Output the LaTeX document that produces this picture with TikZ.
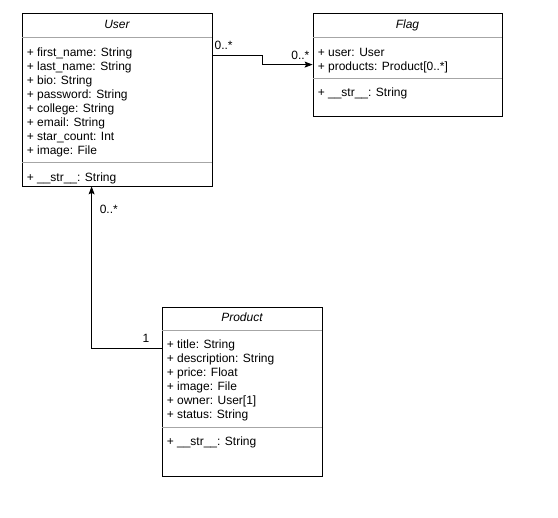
\documentclass[tikz,border=0pt]{standalone}
\usepackage{fontspec}
\setmainfont{Liberation Sans}
\usetikzlibrary{arrows.meta}

\begin{document}
\begin{tikzpicture}[x=1pt, y=-1pt,
		classbox/.style={draw, line width=0.8pt, inner sep=0pt},
		classname/.style={anchor=base, inner sep=0pt, font=\fontsize{12}{14}\selectfont\itshape},
		members/.style={anchor=north west, inner sep=0pt, align=left, font=\fontsize{12}{14}\selectfont},
		sepline/.style={draw=gray!70, line width=0.8pt},
		assoc/.style={line width=0.8pt, -{Stealth[length=8pt, width=6pt, inset=1.5pt]}},
		mult/.style={inner sep=0pt, font=\fontsize{12}{14}\selectfont}]
			\useasboundingbox (0,0) rectangle (558,518);
			\node[classbox, minimum width=190pt, minimum height=173pt] (user) at (117,99.5) {};
			\node[classname] (usertitle) at ([yshift=-16pt]user.north) {User};
			\draw[sepline] ([yshift=-25pt]user.north west) -- ([yshift=-25pt]user.north east);
			\draw[sepline] ([yshift=-150pt]user.north west) -- ([yshift=-150pt]user.north east);
			\node[members] (userattr) at ([xshift=5pt, yshift=-33.7pt]user.north west) {\strut+ first\_name: String\\+ last\_name: String\\+ bio: String\\+ password: String\\+ college: String\\+ email: String\\+ star\_count: Int\\+ image: File};
			\node[members] (userops) at ([xshift=5pt, yshift=-158.7pt]user.north west) {\strut+ \_\_str\_\_: String};
			\node[classbox, minimum width=189pt, minimum height=103pt] (flag) at (407.5,64.5) {};
			\node[classname] (flagtitle) at ([yshift=-16pt]flag.north) {Flag};
			\draw[sepline] ([yshift=-25pt]flag.north west) -- ([yshift=-25pt]flag.north east);
			\draw[sepline] ([yshift=-66pt]flag.north west) -- ([yshift=-66pt]flag.north east);
			\node[members] (flagattr) at ([xshift=5pt, yshift=-33.7pt]flag.north west) {\strut+ user: User\\+ products: Product[0..*]};
			\node[members] (flagops) at ([xshift=5pt, yshift=-74.4pt]flag.north west) {\strut+ \_\_str\_\_: String};
			\node[classbox, minimum width=160pt, minimum height=169pt] (product) at (242,391.5) {};
			\node[classname] (producttitle) at ([yshift=-14.7pt]product.north) {Product};
			\draw[sepline] ([yshift=-24pt]product.north west) -- ([yshift=-24pt]product.north east);
			\draw[sepline] ([yshift=-121pt]product.north west) -- ([yshift=-121pt]product.north east);
			\node[members] (productattr) at ([xshift=5pt, yshift=-32.4pt]product.north west) {\strut+ title: String\\+ description: String\\+ price: Float\\+ image: File\\+ owner: User[1]\\+ status: String};
			\node[members] (productops) at ([xshift=5pt, yshift=-128.7pt]product.north west) {\strut+ \_\_str\_\_: String};
			\draw[assoc] ([yshift=-43pt]user.north east) -- ++(50,0) |- ([yshift=-52pt]flag.north west);
			\node[mult, anchor=south west] (usermult) at ([xshift=2pt, yshift=-37pt]user.north east) {0..*};
			\node[mult, anchor=south east] (flagmult) at ([xshift=-3pt, yshift=-47pt]flag.north west) {0..*};
			\draw[assoc] ([yshift=-42pt]product.north west) -| ([xshift=70pt]user.south west);
			\node[mult, anchor=south east] (ownermult) at ([xshift=-12pt, yshift=-36pt]product.north west) {1};
			\node[mult, anchor=south west] (productsmult) at ([xshift=78pt, yshift=-27pt]user.south west) {0..*};
		\end{tikzpicture}
\end{document}
